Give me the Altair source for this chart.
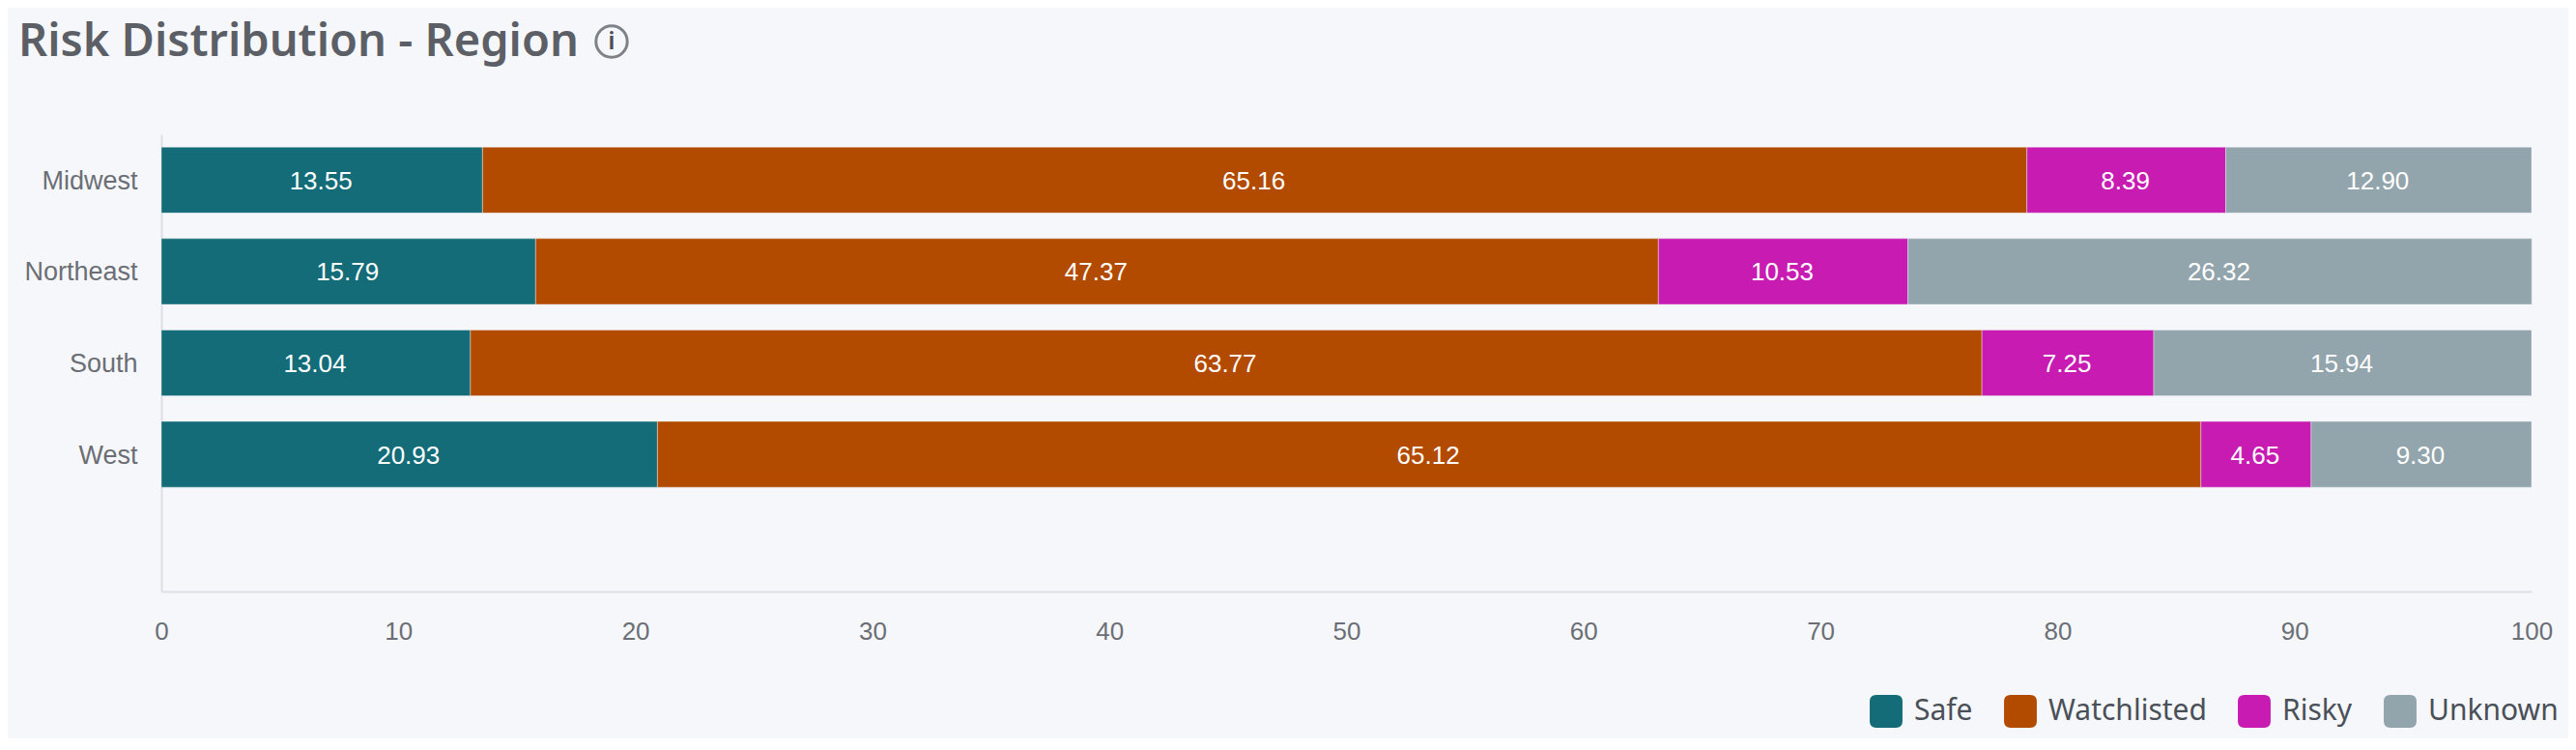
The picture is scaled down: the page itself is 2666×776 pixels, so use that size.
import altair as alt
import pandas as pd

regions = ["Midwest", "Northeast", "South", "West"]
axis_slots = ["Midwest", "Northeast", "South", "West", " "]
series = ["Safe", "Watchlisted", "Risky", "Unknown"]
colors = ["#136c78", "#b24a00", "#c71bb1", "#92a4ac"]
safe = [13.55, 15.79, 13.04, 20.93]
watchlisted = [65.16, 47.37, 63.77, 65.12]
risky = [8.39, 10.53, 7.25, 4.65]
unknown = [12.90, 26.32, 15.94, 9.30]
x_ticks = [0, 10, 20, 30, 40, 50, 60, 70, 80, 90, 100]
title_text = "Risk Distribution - Region"

BG = "#f6f7fb"
rows = []
for ri, region in enumerate(regions):
    start = 0.0
    for si, (name, vals) in enumerate(zip(series, [safe, watchlisted, risky, unknown])):
        v = vals[ri]
        rows.append(dict(region=region, series=name, order=si, start=start, end=start + v, mid=start + v / 2, value=v))
        start += v
df = pd.DataFrame(rows)

y_enc = alt.Y("region:N", scale=alt.Scale(domain=axis_slots, paddingInner=0.28, paddingOuter=0.14), title=None,
              axis=alt.Axis(domainColor="#dcdfe6", domainWidth=2, ticks=False, labelColor="#6b6f75", labelFont="Liberation Sans",
                            labelFontSize=27, labelPadding=25, labelOffset=1.5, grid=False))
x_enc = alt.X("start:Q", scale=alt.Scale(domain=[0, 100], nice=False), title=None,
              axis=alt.Axis(values=x_ticks, domainColor="#dcdfe6", domainWidth=2, ticks=False, labelColor="#6b6f75",
                            labelFont="Liberation Sans", labelFontSize=26, labelPadding=28, grid=False,
                            labelFlush=False))

rounded = "M-0.6,-1H0.6Q1,-1,1,-0.6V0.6Q1,1,0.6,1H-0.6Q-1,1,-1,0.6V-0.6Q-1,-1,-0.6,-1Z"
bars = alt.Chart(df).mark_bar(stroke=BG, strokeWidth=0.4).encode(
    x=x_enc, x2="end:Q", y=y_enc,
    color=alt.Color("series:N", scale=alt.Scale(domain=series, range=colors), title=None,
                    legend=alt.Legend(orient="none", legendX=1768, legendY=580, direction="horizontal", columns=4,
                                      symbolType=rounded, symbolSize=1150, symbolStrokeWidth=0,
                                      labelFont="Noto Sans", labelFontSize=30, labelColor="#4a5058",
                                      labelOffset=12, columnPadding=32, labelLimit=300)),
)
labels = alt.Chart(df).mark_text(color="white", font="Liberation Sans", fontSize=26, dy=1.5, dx=-1).encode(
    x=alt.X("mid:Q"), y=alt.Y("region:N"), text=alt.Text("value:Q", format=".2f"))

icon = alt.Chart(pd.DataFrame({"k": [0]})).mark_point(shape="circle", size=1050, filled=False, stroke="#4b5058", strokeWidth=3).encode(
    x=alt.value(466), y=alt.value(-96))
icon_i = alt.Chart(pd.DataFrame({"k": ["i"]})).mark_text(font="Noto Sans", fontSize=26, fontWeight=600, color="#4b5058").encode(
    x=alt.value(466), y=alt.value(-96), text="k:N")

chart = (bars + labels + icon + icon_i).properties(
    width=2453, height=473, background=BG,
    padding={"left": 159, "top": 131, "right": 38, "bottom": 152},
    autosize=alt.AutoSizeParams(type="none"),
    title=alt.TitleParams(title_text, anchor="start", frame="group", font="Noto Sans", fontSize=47, fontWeight=600,
                          color="#5c5f66", offset=-47, dx=-148),
).configure_view(stroke=None)

chart.save("out.html", embed_options={"renderer": "svg", "actions": False})
